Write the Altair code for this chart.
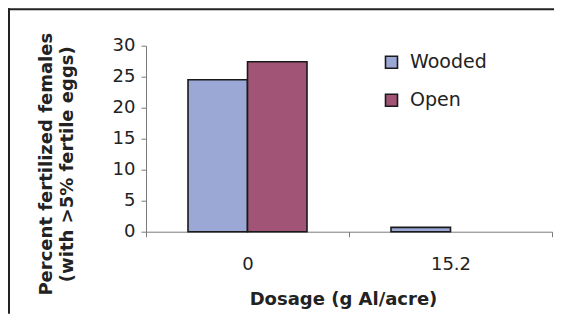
import altair as alt
import pandas as pd

dosages = ["0", "15.2"]
series = ["Wooded", "Open"]
wooded = [24.5, 0.7]
open_ = [27.4, 0.0]
colors = ["#9ba7d4", "#a15476"]
y_ticks = [0, 5, 10, 15, 20, 25, 30]

rows = []
for i, d in enumerate(dosages):
    rows.append({"Dosage": d, "Site": "Wooded", "Percent": wooded[i]})
    rows.append({"Dosage": d, "Site": "Open", "Percent": open_[i]})
df = pd.DataFrame(rows)

frame_df = pd.DataFrame({"k": [0]})

FONT = "DejaVu Sans"

frame_top = alt.Chart(frame_df).mark_rule(color="#222222", strokeWidth=2).encode(
    x=alt.value(-138), x2=alt.value(408), y=alt.value(-36.5)
)
frame_left = alt.Chart(frame_df).mark_rule(color="#222222", strokeWidth=2).encode(
    x=alt.value(-137), y=alt.value(-37.5), y2=alt.value(268)
)

bars = alt.Chart(df).transform_filter("datum.Percent > 0").mark_bar(
    stroke="#1a1a1a", strokeWidth=1.6
).encode(
    x=alt.X("Dosage:N", sort=dosages,
            scale=alt.Scale(paddingInner=0, paddingOuter=0),
            axis=alt.Axis(title="Dosage (g Al/acre)", labelAngle=0,
                          tickBand="extent", tickSize=5, labelPadding=19,
                          domainColor="#7a7a7a", tickColor="#7a7a7a",
                          labelColor="#222222", labelFontSize=18, labelFont=FONT,
                          titleFont=FONT, titleFontSize=18, titleFontWeight="bold",
                          titleColor="#222222", titleX=197, titleY=73,
                          titleAlign="center", titleBaseline="alphabetic")),
    xOffset=alt.XOffset("Site:N", sort=series,
                        scale=alt.Scale(paddingInner=0, paddingOuter=0.706)),
    y=alt.Y("Percent:Q", scale=alt.Scale(domain=[0, 30], nice=False),
            axis=alt.Axis(values=y_ticks, grid=False, tickSize=5, labelPadding=6,
                          domainColor="#7a7a7a", tickColor="#7a7a7a",
                          labelColor="#222222", labelFontSize=18, labelFont=FONT,
                          title=["Percent fertilized females", "(with >5% fertile eggs)"],
                          titleFont=FONT, titleFontSize=18, titleFontWeight="bold",
                          titleColor="#222222", titleAngle=270, titleX=-95, titleY=118,
                          titleAlign="center", titleBaseline="alphabetic",
                          titleLineHeight=21)),
    color=alt.Color("Site:N", sort=series,
                    scale=alt.Scale(domain=series, range=colors),
                    legend=alt.Legend(title=None, orient="none", legendX=236, legendY=7,
                                      symbolType="square", symbolSize=144,
                                      symbolStrokeColor="#1a1a1a", symbolStrokeWidth=1.6,
                                      symbolOpacity=1,
                                      labelFont=FONT, labelFontSize=19,
                                      labelColor="#222222", labelOffset=9,
                                      rowPadding=18))
)

chart = alt.layer(bars, frame_top, frame_left).properties(
    width=406, height=186,
    autosize=alt.AutoSizeParams(type="none"),
    padding={"left": 138, "top": 37.7, "right": 6, "bottom": 84.3},
    background="white"
).configure_view(strokeWidth=0)

chart.save("out.html", embed_options={"renderer": "svg", "actions": False})
